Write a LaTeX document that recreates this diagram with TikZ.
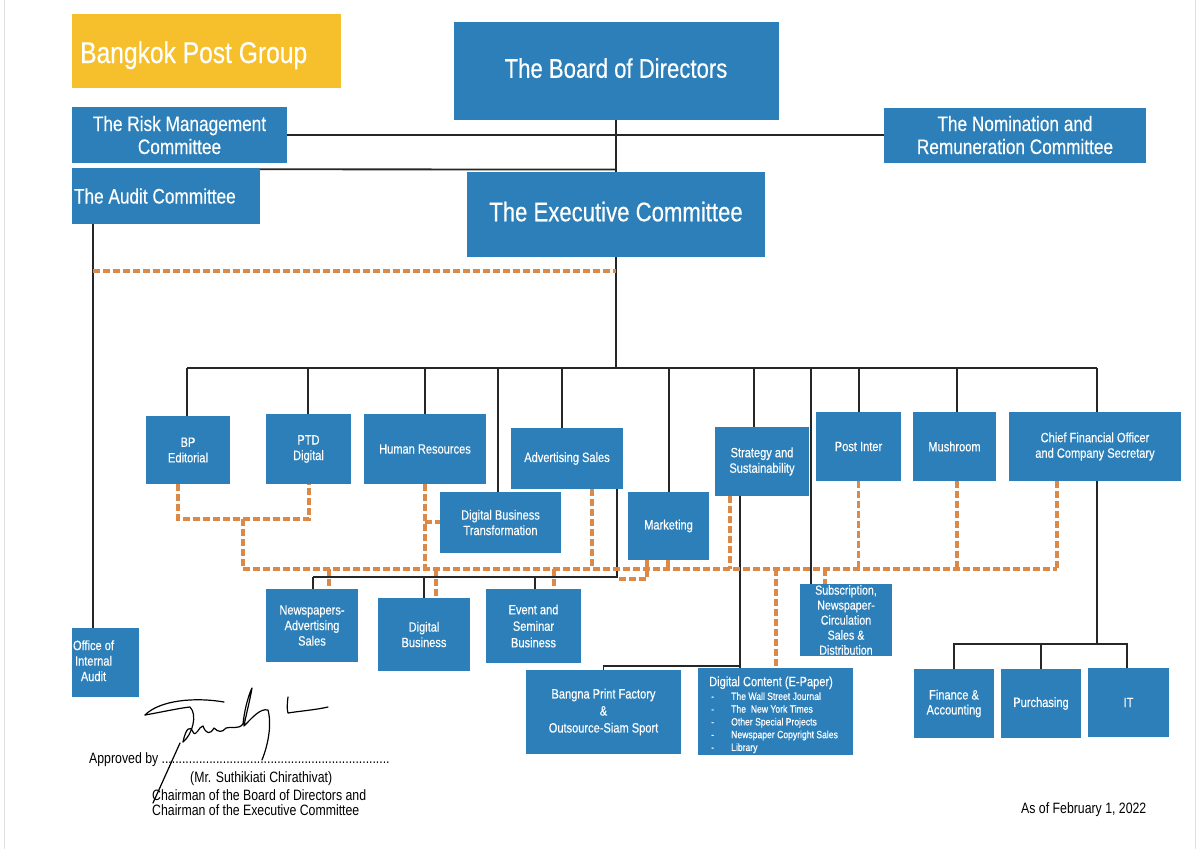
\documentclass[tikz,border=0pt]{standalone}
\usepackage{fontspec}
\setmainfont{Liberation Sans}[FakeStretch=0.82, WordSpace=1.0]
\newfontfamily\bxf{Liberation Sans}[FakeStretch=0.82, WordSpace=1.0, FakeBold=0.3]
\definecolor{bpblue}{RGB}{44,127,184}
\definecolor{bporange}{RGB}{220,136,70}
\definecolor{bpyellow}{RGB}{246,191,44}
\newcommand\fs[2]{\fontsize{#1}{#2}\selectfont}
\begin{document}
\begin{tikzpicture}[x=1pt,y=-1pt,
  box/.style={fill=bpblue, text=white, inner sep=1pt, align=center, font=\bxf\fs{13.5}{15.5}},
  ln/.style={line width=1.8pt, black!85},
  od/.style={line width=3.2pt, bporange, dash pattern=on 7pt off 3pt},
  sig/.style={line width=1.2pt, black, line cap=round, line join=round},
  plain/.style={anchor=base west, font=\fs{15}{17}, inner sep=0pt}]
\useasboundingbox (0,0) rectangle (1200,849);
\fill[white] (0,0) rectangle (1200,849);
\draw[black!12, line width=1pt] (4,0) -- (4,849);
\draw[black!12, line width=1pt] (1195,0) -- (1195,849);

% top level
\node[fill=bpyellow, text=white, anchor=west, minimum height=74, inner xsep=8pt,
      font=\bxf\fs{30}{32}, text height=24pt, text depth=0pt] (bpg) at (72,51) {\makebox[253pt][l]{Bangkok Post Group}};
\node[box, minimum width=325, minimum height=98, font=\bxf\fs{27}{30}, text depth=6pt] (board) at (616,71) {The Board of Directors};
\node[box, minimum width=298, minimum height=85, font=\bxf\fs{27}{30}, text depth=6pt] (exec) at (616,214.5) {The Executive Committee};
\node[box, minimum width=215, minimum height=56, font=\bxf\fs{21}{23}] (risk) at (179.5,135) {The Risk Management\\Committee};
\node[box, minimum width=262, minimum height=55, font=\bxf\fs{21}{23}] (nom) at (1015,135) {The Nomination and\\Remuneration Committee};
\node[box, minimum width=188, minimum height=56, inner xsep=2pt, font=\bxf\fs{21}{23}] (audit) at (166,196) {\makebox[184pt][l]{The Audit Committee}};

% second level
\node[box, minimum width=84, minimum height=68] (bp) at (188,450) {BP\\Editorial};
\node[box, minimum width=85, minimum height=70] (ptd) at (308.5,449) {PTD\\Digital};
\node[box, minimum width=122, minimum height=70] (hr) at (425,449) {Human Resources};
\node[box, minimum width=112, minimum height=61] (adv) at (567,458.5) {Advertising Sales};
\node[box, minimum width=121, minimum height=61] (dbt) at (500.5,522.5) {Digital Business\\Transformation};
\node[box, minimum width=81, minimum height=68] (mkt) at (668.5,526) {Marketing};
\node[box, minimum width=94, minimum height=69] (strat) at (762,461.5) {Strategy and\\Sustainability};
\node[box, minimum width=85, minimum height=69] (post) at (858.5,446.5) {Post Inter};
\node[box, minimum width=83, minimum height=69] (mush) at (954.5,446.5) {Mushroom};
\node[box, minimum width=172, minimum height=69] (cfo) at (1095,446.5) {Chief Financial Officer\\and Company Secretary};

% third level
\node[box, minimum width=92, minimum height=73] (news) at (312,625.5) {Newspapers-\\Advertising\\Sales};
\node[box, minimum width=92, minimum height=73] (dbus) at (424,634.5) {Digital\\Business};
\node[box, minimum width=95, minimum height=74, font=\bxf\fs{13.5}{16.5}] (event) at (533.5,626) {Event and\\Seminar\\Business};
\node[box, minimum width=92, minimum height=72, font=\bxf\fs{13}{15}] (subs) at (846,620) {Subscription,\\Newspaper-\\Circulation\\Sales \&\\Distribution};
\node[box, minimum width=155, minimum height=84, font=\bxf\fs{13.5}{17}] (bangna) at (603.5,712) {Bangna Print Factory\\\&\\Outsource-Siam Sport};
\node[box, anchor=north west, minimum width=155, minimum height=86, inner sep=0pt, font=\bxf\fs{10.5}{12.75}] (dcont) at (698,668)
  {\makebox[155pt][l]{\begin{tabular}{@{}l@{}}
   \rule{0pt}{18pt}\hspace*{11pt}{\fs{13.5}{15}Digital Content (E-Paper)}\\[1pt]
   \hspace*{13pt}\makebox[20pt][l]{-}The Wall Street Journal\\
   \hspace*{13pt}\makebox[20pt][l]{-}The\ \ New York Times\\
   \hspace*{13pt}\makebox[20pt][l]{-}Other Special Projects\\
   \hspace*{13pt}\makebox[20pt][l]{-}Newspaper Copyright Sales\\
   \hspace*{13pt}\makebox[20pt][l]{-}Library
   \end{tabular}}};
\node[box, minimum width=67, minimum height=69] (oia) at (105.5,662.5)
  {\makebox[65pt][l]{\begin{tabular}{@{}c@{}}Office of\\Internal\\Audit\end{tabular}}};
\node[box, minimum width=80, minimum height=69, font=\bxf\fs{13.5}{15}] (fin) at (954,703.5) {Finance \&\\Accounting};
\node[box, minimum width=80, minimum height=69] (pur) at (1041,703.5) {Purchasing};
\node[box, minimum width=81, minimum height=69] (it) at (1128.5,702.5) {IT};

% solid connectors
\coordinate (auj) at (616,169.5);
\coordinate (ax) at (93,0);
\coordinate (bus) at (0,368);
\coordinate (stb) at (0,666);
\coordinate (cb) at (0,644);
\draw[ln] (board.south) -- (exec.north);
\draw[ln] (risk.east) -- (nom.west);
\draw[ln] ([yshift=-1.5pt]audit.north east) -- (auj);
\draw[ln] (audit.south -| ax) -- (oia.north -| ax);
\draw[ln] (exec.south) -- (exec.south |- bus);
\draw[ln] (187,368) -- (1097,368);
\foreach \n/\x in {bp/187, ptd/308, hr/425, dbt/498, adv/562, mkt/669, strat/754, subs/811, post/859, mush/957, cfo/1097}
  \draw[ln] (\x,368) -- (\n.north -| \x,0);
\draw[ln] (adv.south -| 617,0) -- (617,577) -- (313,577);
\foreach \n/\x in {news/313, dbus/424, event/535}
  \draw[ln] (\x,577) -- (\n.north -| \x,0);
\draw[ln] (strat.south -| 740,0) -- (dcont.north -| 740,0);
\draw[ln] (740,666) -- (bangna.north |- stb) -- (bangna.north);
\draw[ln] (cfo.south -| 1097,0) -- (1097,644);
\draw[ln] (fin.north) -- (fin.north |- cb) -- (1127,644) -- (it.north -| 1127,0);
\draw[ln] (pur.north) -- (pur.north |- cb);

% dashed connectors
\coordinate (o1) at (93,271);
\coordinate (o2) at (616,271);
\draw[od] (o1) -- (o2);
\draw[od] (bp.south -| 178,0) -- (178,519) -- (309,519) -- (ptd.south -| 309,0);
\draw[od] (243,519) -- (243,569) -- (1057,569);
\draw[od] (hr.south) -- (425,569);
\draw[od] (425,522) -- (dbt.west |- 0,522);
\draw[od] (329,569) -- (news.north -| 329,0);
\draw[od] (436,569) -- (dbus.north -| 436,0);
\draw[od] (554,569) -- (event.north -| 554,0);
\draw[od] (adv.south -| 592,0) -- (592,569);
\draw[od] (mkt.south -| 668,0) -- (668,569);
\draw[od] (mkt.south -| 647,0) -- (647,579) -- (619,579);
\draw[od] (strat.south -| 730,0) -- (730,569);
\draw[od] (776,569) -- (dcont.north -| 776,0);
\draw[od] (825,569) -- (subs.north -| 825,0);
\draw[od] (post.south) -- (post.south |- 0,569);
\draw[od] (mush.south -| 957,0) -- (957,569);
\draw[od] (cfo.south -| 1057,0) -- (1057,569);

% approval text
\node[plain] (appr) at (89,763) {Approved by \makebox[228pt][l]{\leaders\hbox to 3.4pt{\hss.\hss}\hfill}};
\node[plain] (name) at (190,782) {(Mr. Suthikiati Chirathivat)};
\node[plain] (ch1) at (152,800) {Chairman of the Board of Directors and};
\node[plain] (ch2) at (152,815) {Chairman of the Executive Committee};
\node[plain] (date) at (1021,813) {As of February 1, 2022};

% signature
\draw[sig] (145,715) .. controls (160,700) and (195,697) .. (224,702);
\draw[sig] (145,715) .. controls (162,712) and (180,708) .. (190,707) .. controls (198,715) and (192,735) .. (183,742);
\draw[sig] (183,742) .. controls (186,728) and (190,725) .. (193,732) .. controls (196,738) and (199,726) .. (203,726)
  .. controls (206,734) and (210,735) .. (214,728) .. controls (218,732) and (222,733) .. (226,728)
  .. controls (232,726) and (238,730) .. (243,724);
\draw[sig] (243,724) .. controls (245,705) and (250,692) .. (252,688) .. controls (250,700) and (246,715) .. (244,726)
  .. controls (252,718) and (260,708) .. (268,710) .. controls (272,725) and (268,745) .. (262,760);
\draw[sig] (180,743) -- (153,803);
\draw[sig] (288,697) .. controls (287,705) and (287,710) .. (288,713) .. controls (300,711) and (315,710) .. (328,707);
\end{tikzpicture}
\end{document}
